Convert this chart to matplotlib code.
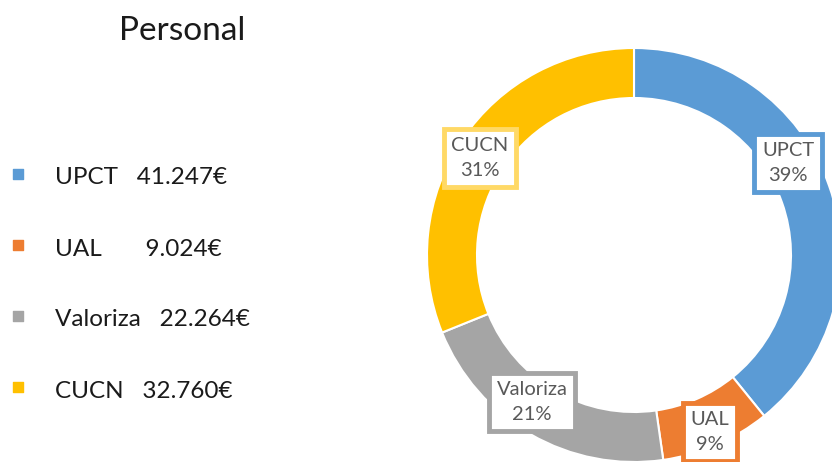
import matplotlib.pyplot as plt

plt.rcParams['font.family'] = ['Lato', 'DejaVu Sans']

# datos
nombres = ["UPCT", "UAL", "Valoriza", "CUCN"]
importes = [41247, 9024, 22264, 32760]
etiquetas_leyenda = ["UPCT   41.247€", "UAL       9.024€", "Valoriza   22.264€", "CUCN   32.760€"]

colores = ["#5B9BD5", "#ED7D31", "#A5A5A5", "#FFC000"]
bordes = ["#5B9BD5", "#ED7D31", "#A5A5A5", "#FFD966"]
# posiciones de las etiquetas (pixeles)
pos_etiquetas = [(788, 163), (710, 432), (532, 402), (480, 158)]

W, H = 832, 462
fig = plt.figure(figsize=(W / 100, H / 100), dpi=100, facecolor='w')
ax = fig.add_axes([0, 0, 1, 1])

cx, cy, r = 634, H - 255, 207
ax.pie(importes, colors=colores, startangle=90, counterclock=False,
       center=(cx, cy), radius=r, frame=True,
       wedgeprops=dict(width=50, edgecolor='white', linewidth=1.5))
ax.set_xlim(0, W)
ax.set_ylim(0, H)
ax.set_aspect('equal')
ax.axis('off')

total = sum(importes)
for nombre, v, b, (px, py) in zip(nombres, importes, bordes, pos_etiquetas):
    pct = round(100 * v / total)
    ax.text(px, H - py, f"{nombre}\n{pct}%", ha='center', va='center',
            fontsize=14.5, color='#595959', linespacing=1.6,
            bbox=dict(boxstyle='square,pad=0.38', fc='white', ec=b, lw=3.5))

# titulo
ax.text(182, H - 31, "Personal", ha='center', va='center', fontsize=24, color='#1a1a1a')

# leyenda
for i, (lab, c) in enumerate(zip(etiquetas_leyenda, colores)):
    y = H - (178 + i * 71)
    ax.scatter([18], [y + 4], marker='s', s=60, color=c)
    ax.text(55, y, lab, ha='left', va='center', fontsize=17.5, color='#1a1a1a')

fig.savefig("out.png", dpi=100)
